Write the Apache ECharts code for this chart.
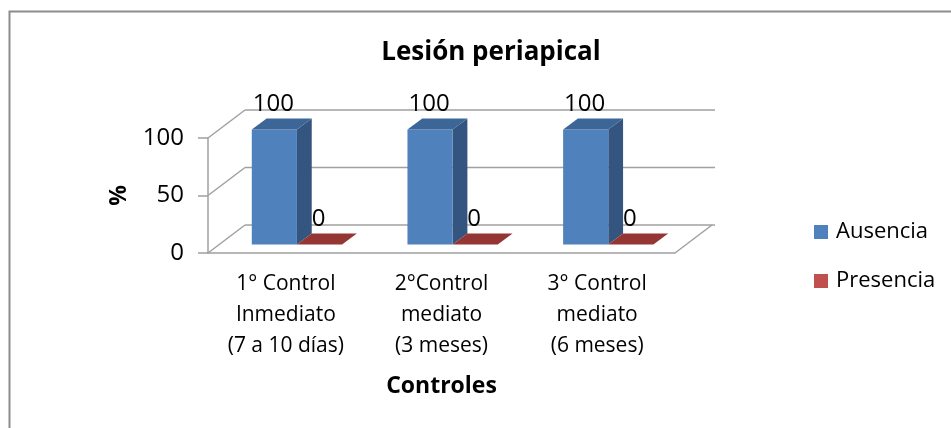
<!DOCTYPE html>
<html>
<head>
<meta charset="utf-8">
<script src="https://cdn.jsdelivr.net/npm/echarts@6/dist/echarts.min.js"></script>
<style>
html, body { margin: 0; padding: 0; background: #fff; }
#chart { width: 951px; height: 428px; }
</style>
</head>
<body>
<div id="chart"></div>
<script>
const categories = ['1° Control\nInmediato\n(7 a 10 días)', '2°Control\nmediato\n(3 meses)', '3° Control\nmediato\n(6 meses)']
const ausencia = [100, 100, 100]
const presencia = [0, 0, 0]
const yTicks = [0, 50, 100]

// depth of the 3d box (px)
const DX = 37
const DY = 28
const FONT = '"Open Sans", sans-serif'

const chart = echarts.init(document.getElementById('chart'))

function wallItem (params, api) {
    const cs = params.coordSys
    const y = api.coord([0, api.value(1)])[1]
    const x0 = cs.x
    const x1 = cs.x + cs.width
    const style = { stroke: '#a0a0a0', lineWidth: 1.5 }
    const children = [
        { type: 'line', shape: { x1: x0, y1: y, x2: x0 + DX, y2: y - DY }, style: style },
        { type: 'line', shape: { x1: x0 + DX, y1: y - DY, x2: x1 + DX + 3, y2: y - DY }, style: style }
    ]
    if (api.value(1) === 0) {
        children.push({ type: 'line', shape: { x1: x1, y1: y, x2: x1 + DX, y2: y - DY }, style: style })
    }
    return { type: 'group', children: children }
}

function barRenderer (idx, colors) {
    return function (params, api) {
        const i = api.value(0)
        const v = api.value(1)
        const cx = api.coord([i, 0])[0]
        const band = api.size([1, 0])[0]
        const w = band * 0.29
        const f0 = 0.3
        const dx = 0.4 * DX
        const dy = -0.4 * DY
        const xl = cx - w + idx * w + f0 * DX
        const xr = xl + w
        const yt = api.coord([i, v])[1] - f0 * DY
        const yb = api.coord([i, 0])[1] - f0 * DY
        const children = []
        if (yb - yt > 0.5) {
            children.push({ type: 'polygon', shape: { points: [[xr, yt], [xr + dx, yt + dy], [xr + dx, yb + dy], [xr, yb]] }, style: { fill: colors[2] } })
            children.push({ type: 'rect', shape: { x: xl, y: yt, width: w, height: yb - yt }, style: { fill: colors[0] } })
        }
        children.push({ type: 'polygon', shape: { points: [[xl, yt], [xr, yt], [xr + dx, yt + dy], [xl + dx, yt + dy]] }, style: { fill: colors[1] } })
        children.push({
            type: 'text',
            style: {
                text: String(v),
                x: (xl + xr) / 2 - 1,
                y: yt - 25,
                align: 'center',
                verticalAlign: 'middle',
                fill: '#000',
                font: '24px ' + FONT
            }
        })
        return { type: 'group', children: children }
    }
}

const option = {
    animation: false,
    backgroundColor: '#fff',
    title: {
        text: 'Lesión periapical',
        left: 486,
        top: 35,
        textAlign: 'center',
        textStyle: { fontFamily: FONT, fontSize: 26, fontWeight: 'bold', color: '#000' }
    },
    graphic: [
        {
            type: 'rect',
            shape: { x: 9.5, y: 11.5, width: 1000, height: 500 },
            style: { fill: 'none', stroke: '#8c8c8c', lineWidth: 2 },
            silent: true
        }
    ],
    legend: {
        orient: 'vertical',
        left: 809,
        top: 216,
        itemWidth: 14,
        itemHeight: 14,
        itemGap: 27,
        icon: 'rect',
        textStyle: { fontFamily: FONT, fontSize: 22, color: '#000', padding: [0, 0, 0, 3] },
        data: [
            { name: 'Ausencia', itemStyle: { color: '#4F81BD' } },
            { name: 'Presencia', itemStyle: { color: '#C0504D' } }
        ]
    },
    grid: {
        left: 208,
        top: 138,
        width: 467,
        height: 115,
        containLabel: false,
        outerBoundsMode: 'none'
    },
    xAxis: {
        type: 'category',
        data: categories,
        name: 'Controles',
        nameLocation: 'middle',
        nameGap: 122,
        nameTextStyle: { fontFamily: FONT, fontSize: 23, fontWeight: 'bold', color: '#000' },
        axisLine: { show: true, lineStyle: { color: '#a0a0a0', width: 1.5 } },
        axisTick: { show: false },
        axisLabel: { margin: 16, fontFamily: FONT, fontSize: 21, lineHeight: 31, color: '#000', interval: 0 },
        splitLine: { show: false }
    },
    yAxis: {
        type: 'value',
        min: 0,
        max: 100,
        interval: 50,
        name: '%',
        nameLocation: 'middle',
        nameGap: 77,
        nameRotate: 90,
        nameTextStyle: { fontFamily: FONT, fontSize: 23, fontWeight: 'bold', color: '#000' },
        axisLine: { show: true, lineStyle: { color: '#a0a0a0', width: 1.5 } },
        axisTick: { show: true, inside: false, length: 10, lineStyle: { color: '#a0a0a0', width: 1.5 } },
        axisLabel: { margin: 24, fontFamily: FONT, fontSize: 24, color: '#000' },
        splitLine: { show: false }
    },
    series: [
        {
            type: 'custom',
            name: 'walls',
            silent: true,
            renderItem: wallItem,
            data: yTicks.map(v => [0, v]),
            z: 1
        },
        {
            type: 'custom',
            name: 'Ausencia',
            renderItem: barRenderer(0, ['#4F81BD', '#3D6698', '#34557F']),
            data: ausencia.map((v, i) => [i, v]),
            z: 3
        },
        {
            type: 'custom',
            name: 'Presencia',
            renderItem: barRenderer(1, ['#C0504D', '#943634', '#7A2C2A']),
            data: presencia.map((v, i) => [i, v]),
            z: 4
        }
    ]
}
chart.setOption(option)
</script>
</body>
</html>
